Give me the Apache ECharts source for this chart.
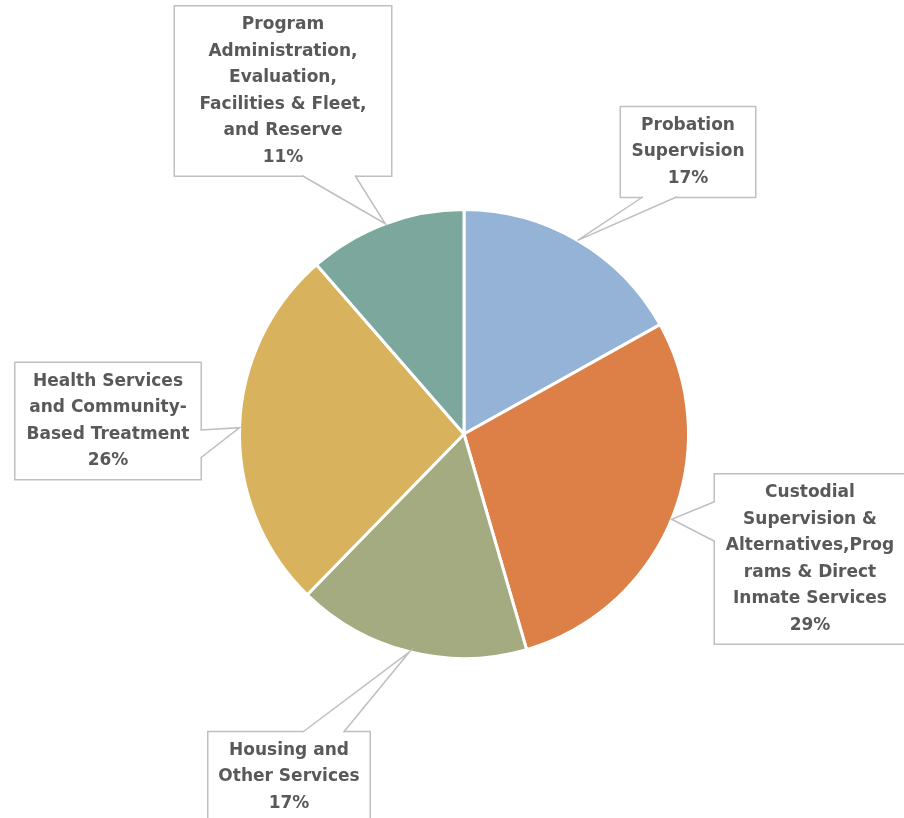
<!DOCTYPE html>
<html>
<head>
<meta charset="utf-8">
<script src="https://cdn.jsdelivr.net/npm/echarts@6/dist/echarts.min.js"></script>
<style>
html,body{margin:0;padding:0;background:#fff;}
#chart{width:904px;height:818px;}
</style>
</head>
<body>
<div id="chart"></div>
<script>
// ---- data ----
const categories = [
  'Probation\nSupervision',
  'Custodial\nSupervision &\nAlternatives,Prog\nrams & Direct\nInmate Services',
  'Housing and\nOther Services',
  'Health Services\nand Community-\nBased Treatment',
  'Program\nAdministration,\nEvaluation,\nFacilities & Fleet,\nand Reserve'
];
const values = [16.9, 28.6, 16.8, 26.3, 11.4];

// ---- styling / layout (separate from data) ----
const colors = ['#95B3D7', '#DD8047', '#A5AB81', '#D8B25C', '#7BA79D'];
const labelCenters = [[688, 152], [810, 559], [289, 777], [108, 421], [283, 91]];
const labelBoxWidths = [134, 190, 161, 185, 216];
// callout pointer base: which side of the box, and offsets along that side
const calloutBases = [
  {side: 'bottom', a: 22, b: 56},
  {side: 'left', a: 27, b: 67},
  {side: 'top', a: 94, b: 135},
  {side: 'right', a: 67, b: 95},
  {side: 'bottom', a: 127, b: 180}
];
const LINE_H = 26.5, PAD = [6, 4, 4, 4];
const BORDER = '#BFBFBF';

const chart = echarts.init(document.getElementById('chart'), null, {renderer: 'canvas'});

const data = categories.map((name, i) => ({
  name: name,
  value: values[i],
  itemStyle: {color: colors[i]},
  label: {width: labelBoxWidths[i] - PAD[1] - PAD[3]}
}));

chart.setOption({
  animation: false,
  backgroundColor: '#fff',
  series: [{
    type: 'pie',
    center: ['464px', '434px'],
    radius: 224.5,
    startAngle: 90,
    clockwise: true,
    avoidLabelOverlap: false,
    percentPrecision: 0,
    data: data,
    itemStyle: {borderColor: '#fff', borderWidth: 3},
    label: {
      show: true,
      position: 'outside',
      formatter: '{b}\n{d}%',
      fontFamily: 'DejaVu Sans',
      fontWeight: 'bold',
      fontSize: 17,
      lineHeight: LINE_H,
      color: '#595959',
      align: 'center',
      backgroundColor: '#fff',
      borderColor: BORDER,
      borderWidth: 1.5,
      padding: PAD,
      overflow: 'none'
    },
    labelLine: {show: false},
    labelLayout: function (params) {
      const p = labelCenters[params.dataIndex];
      return {x: p[0], y: p[1], align: 'center', verticalAlign: 'middle'};
    }
  }]
});

// callout pointers: tip at the slice's mid-angle on the rim (from the pie layout)
const sData = chart.getModel().getSeriesByIndex(0).getData();
const graphics = [];
categories.forEach((name, i) => {
  const lay = sData.getItemLayout(i);
  const mid = (lay.startAngle + lay.endAngle) / 2;
  const tip = [lay.cx + lay.r * Math.cos(mid), lay.cy + lay.r * Math.sin(mid)];
  const nLines = name.split('\n').length + 1;
  const w = labelBoxWidths[i];
  const h = nLines * LINE_H + PAD[0] + PAD[2];
  const x0 = labelCenters[i][0] - w / 2, y0 = labelCenters[i][1] - h / 2;
  const cb = calloutBases[i];
  let b1, b2, in1, in2;
  const d = 2;
  if (cb.side === 'bottom') {
    b1 = [x0 + cb.a, y0 + h]; b2 = [x0 + cb.b, y0 + h];
    in1 = [b1[0], b1[1] - d]; in2 = [b2[0], b2[1] - d];
  } else if (cb.side === 'top') {
    b1 = [x0 + cb.a, y0]; b2 = [x0 + cb.b, y0];
    in1 = [b1[0], b1[1] + d]; in2 = [b2[0], b2[1] + d];
  } else if (cb.side === 'left') {
    b1 = [x0, y0 + cb.a]; b2 = [x0, y0 + cb.b];
    in1 = [b1[0] + d, b1[1]]; in2 = [b2[0] + d, b2[1]];
  } else {
    b1 = [x0 + w, y0 + cb.a]; b2 = [x0 + w, y0 + cb.b];
    in1 = [b1[0] - d, b1[1]]; in2 = [b2[0] - d, b2[1]];
  }
  graphics.push({
    type: 'polygon', z: 100, silent: true,
    shape: {points: [tip, b1, in1, in2, b2]},
    style: {fill: '#fff', stroke: null}
  });
  graphics.push({
    type: 'polyline', z: 101, silent: true,
    shape: {points: [b1, tip, b2]},
    style: {stroke: BORDER, lineWidth: 1.5, fill: null}
  });
});
chart.setOption({graphic: graphics});
</script>
</body>
</html>
